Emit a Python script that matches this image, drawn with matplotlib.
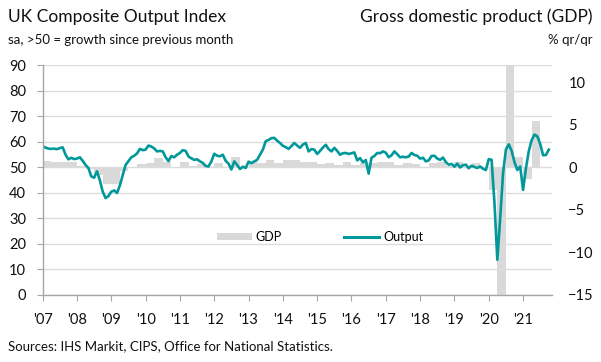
import matplotlib
matplotlib.use("Agg")
import matplotlib.pyplot as plt
from matplotlib.patches import Patch
from matplotlib.lines import Line2D
import numpy as np

plt.rcParams['font.family'] = ['Lato', 'DejaVu Sans']

# Monthly UK Composite Output Index, Jan 2007 - Oct 2021
pmi_2007 = [58.3, 57.8, 57.4, 57.3, 57.4, 57.2, 57.6, 57.9, 55.0, 53.2, 53.8, 53.3]
pmi_2008 = [53.5, 54.0, 52.6, 51.0, 49.8, 46.5, 46.0, 48.5, 45.0, 40.5, 38.0, 38.8]
pmi_2009 = [40.5, 41.0, 40.0, 43.0, 47.0, 51.0, 52.5, 54.0, 54.6, 55.5, 57.3, 56.8]
pmi_2010 = [57.0, 58.6, 58.2, 57.5, 56.3, 56.5, 56.3, 54.0, 52.5, 54.5, 54.0, 55.0]
pmi_2011 = [55.7, 56.8, 56.5, 54.3, 53.6, 53.0, 53.2, 52.4, 51.8, 50.6, 50.4, 52.4]
pmi_2012 = [55.4, 54.6, 54.4, 55.0, 52.6, 51.5, 49.2, 52.4, 51.0, 49.4, 50.3, 49.8]
pmi_2013 = [52.3, 51.7, 52.4, 53.0, 55.0, 57.0, 60.3, 60.8, 61.5, 61.6, 60.5, 59.6]
pmi_2014 = [58.5, 58.0, 57.3, 58.4, 59.6, 58.6, 57.7, 59.0, 59.6, 56.3, 57.2, 57.0]
pmi_2015 = [55.3, 56.5, 57.8, 58.9, 57.2, 56.3, 57.7, 56.5, 55.0, 55.6, 55.7, 55.3]
pmi_2016 = [55.6, 55.9, 52.8, 53.7, 52.0, 52.9, 47.6, 53.8, 54.5, 55.7, 55.6, 56.3]
pmi_2017 = [55.8, 54.0, 54.8, 56.3, 55.2, 54.0, 54.2, 54.0, 54.3, 55.7, 54.9, 54.6]
pmi_2018 = [53.5, 53.8, 52.4, 52.8, 54.5, 54.6, 53.5, 53.0, 53.9, 52.1, 51.1, 51.4]
pmi_2019 = [50.3, 51.5, 50.0, 50.9, 51.1, 49.7, 50.7, 50.2, 49.8, 50.4, 49.5, 49.0]
pmi_2020 = [53.3, 53.0, 36.0, 13.8, 30.0, 47.7, 57.0, 59.1, 56.5, 52.1, 49.0, 50.4]
pmi_2021 = [41.2, 49.6, 56.4, 60.7, 62.9, 62.2, 59.2, 54.8, 54.9, 57.0]

# Quarterly GDP, % q/q, 2007 Q1 - 2021 Q2
gdp_2007 = [0.8, 0.7, 0.6, 0.6]
gdp_2008 = [0.2, -0.2, -0.9, -2.0]
gdp_2009 = [-1.9, -0.4, 0.1, 0.4]
gdp_2010 = [0.5, 1.1, 0.6, 0.1]
gdp_2011 = [0.6, 0.2, 0.4, 0.1]
gdp_2012 = [0.5, -0.1, 1.2, 0.0]
gdp_2013 = [0.6, 0.5, 0.9, 0.5]
gdp_2014 = [0.9, 0.9, 0.7, 0.7]
gdp_2015 = [0.4, 0.5, 0.3, 0.7]
gdp_2016 = [0.3, 0.5, 0.5, 0.7]
gdp_2017 = [0.6, 0.3, 0.5, 0.4]
gdp_2018 = [0.1, 0.5, 0.6, 0.2]
gdp_2019 = [0.6, -0.1, 0.5, 0.1]
gdp_2020 = [-2.6, -19.5, 16.9, 1.2]
gdp_2021 = [-1.4, 5.5]

year_labels = ["'07", "'08", "'09", "'10", "'11", "'12", "'13", "'14",
               "'15", "'16", "'17", "'18", "'19", "'20", "'21"]

pmi = (pmi_2007 + pmi_2008 + pmi_2009 + pmi_2010 + pmi_2011 + pmi_2012 +
       pmi_2013 + pmi_2014 + pmi_2015 + pmi_2016 + pmi_2017 + pmi_2018 +
       pmi_2019 + pmi_2020 + pmi_2021)
gdp = (gdp_2007 + gdp_2008 + gdp_2009 + gdp_2010 + gdp_2011 + gdp_2012 +
       gdp_2013 + gdp_2014 + gdp_2015 + gdp_2016 + gdp_2017 + gdp_2018 +
       gdp_2019 + gdp_2020 + gdp_2021)

months = np.arange(len(pmi))
quarters_start = np.arange(len(gdp)) * 3

TEAL = '#00989a'
BARC = '#d9d9d9'
GRID = '#dcdcdc'
SPINE = '#a6a6a6'

fig = plt.figure(figsize=(6.01, 3.62), dpi=100)
ax = fig.add_axes([0.0710, 0.1851, 0.8469, 0.634])
ax2 = ax.twinx()

# bars on the right axis, drawn behind
ax2.bar(quarters_start, gdp, width=3, align='edge', color=BARC, linewidth=0)
ax2.set_ylim(-15, 12)
ax2.set_yticks([-15, -10, -5, 0, 5, 10])
ax2.tick_params(axis='y', length=0, pad=12, labelsize=10.5, colors='#111111')
for s in ax2.spines.values():
    s.set_visible(False)

# line on left axis, on top
ax.set_zorder(ax2.get_zorder() + 1)
ax.patch.set_visible(False)
ax.plot(months, pmi, color=TEAL, lw=1.9, solid_joinstyle='round')
ax.set_ylim(0, 90)
ax.set_yticks(np.arange(0, 91, 10))
ax.set_xlim(0, 178)
ax.set_xticks(np.arange(0, 169, 12))
ax.set_xticklabels(year_labels)
ax.yaxis.grid(True, color=GRID, lw=1.0)
ax.set_axisbelow(True)
ax.tick_params(axis='y', length=4, color=SPINE, pad=8, labelsize=10.5, labelcolor='#111111')
ax.tick_params(axis='x', length=4, color=SPINE, pad=9, labelsize=10.5, labelcolor='#111111')
for side in ['top', 'right']:
    ax.spines[side].set_visible(False)
for side in ['left', 'bottom']:
    ax.spines[side].set_color(SPINE)
    ax.spines[side].set_linewidth(1.0)

handles = [Patch(facecolor=BARC, edgecolor='none', label='GDP'),
           Line2D([0], [0], color=TEAL, lw=2.2, label='Output')]
ax.legend(handles=handles, loc='center', bbox_to_anchor=(0.545, 0.253), ncol=2,
          frameon=False, fontsize=9, handlelength=2.8, handleheight=0.6,
          handletextpad=0.3, columnspacing=5.0)

fig.text(8 / 601, 1 - 17 / 362, 'UK Composite Output Index', fontsize=12.5,
         ha='left', va='center', color='#111111')
fig.text(8 / 601, 1 - 40 / 362, 'sa, >50 = growth since previous month', fontsize=9.5,
         ha='left', va='center', color='#111111')
fig.text(592 / 601, 1 - 17 / 362, 'Gross domestic product (GDP)', fontsize=12.5,
         ha='right', va='center', color='#111111')
fig.text(592 / 601, 1 - 40 / 362, '% qr/qr', fontsize=9.5,
         ha='right', va='center', color='#111111')
fig.text(8 / 601, 1 - 346 / 362, 'Sources: IHS Markit, CIPS, Office for National Statistics.',
         fontsize=9.5, ha='left', va='center', color='#111111')

fig.savefig('out.png', dpi=100)
